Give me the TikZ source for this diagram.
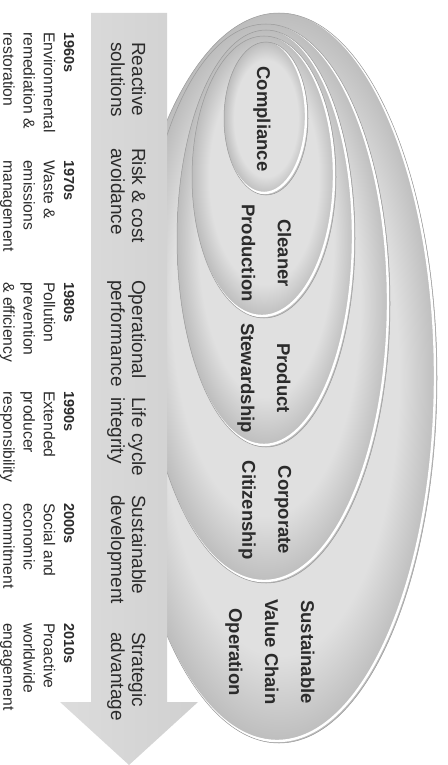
\documentclass[tikz,border=0pt]{standalone}
\usepackage{fontspec}
\setmainfont{Liberation Sans}
\usetikzlibrary{positioning}

\definecolor{bandlight}{HTML}{DCDCDC}
\definecolor{banddark}{HTML}{D0D0D0}
\definecolor{ringin}{HTML}{E0E0E0}
\definecolor{ringrim}{HTML}{BDBDBD}
\definecolor{ringline}{HTML}{9A9A9A}
\definecolor{inkgray}{HTML}{2B2B2B}

\pgfdeclareradialshading{rim}{\pgfpoint{0bp}{0bp}}{color(0bp)=(ringin); color(19bp)=(ringin); color(25bp)=(ringrim); color(50bp)=(ringrim)}

% one shaded ring: centre x, centre y, x radius, y radius
\newcommand{\ecoring}[4]{%
  \shade[shading=rim] (#1,#2) ellipse [x radius=#3, y radius=#4];
  \begin{scope}
    \clip (#1,#2) ellipse [x radius=#3, y radius=#4];
    \draw[white, line width=2.4pt] (#1-2,#2-2) ellipse [x radius=#3, y radius=#4];
  \end{scope}
  \draw[ringline, line width=0.5pt] (#1,#2) ellipse [x radius=#3, y radius=#4];
}
\newcommand{\yr}[1]{{\bfseries\fontsize{14.5}{20.3}\selectfont #1}}

\begin{document}
\begin{tikzpicture}[
                x=1pt, y=-1pt,
                every node/.style={rotate=-90, inner sep=0pt, text=inkgray},
                stage/.style={font=\bfseries\fontsize{18.5}{36}\selectfont, align=center},
                driver/.style={font=\fontsize{19}{21}\selectfont, align=left, anchor=north west},
                decade/.style={font=\fontsize{15.7}{20.3}\selectfont, align=left, anchor=north west}
            ]
            \useasboundingbox (0,0) rectangle (447,765);

            % nested rings, outermost first
            \ecoring{279}{378}{158}{365}
            \ecoring{266}{303.5}{124}{279.5}
            \ecoring{266}{238.5}{89}{208.5}
            \ecoring{264}{177}{72}{141}
            \ecoring{266}{118.5}{42}{76.5}

            % time arrow
            \shade[left color=bandlight, right color=banddark]
                (91,13) -- (167,13) -- (167,702) -- (198,702) -- (129,765)
                -- (60,702) -- (91,702) -- cycle;

            \node[stage] (compliance) at (262,119) {Compliance};
            \node[stage] (cleaner) at (266.5,253) {Cleaner\\Production};
            \node[stage] (product) at (264,378) {Product\\Stewardship};
            \node[stage] (corporate) at (265,510) {Corporate\\Citizenship};
            \node[stage] (valuechain) at (270,652) {Sustainable\\Value Chain\\Operation};

            \node[driver] (reactive) at (146,42) {Reactive\\solutions};
            \node[driver] (risk) at (146,148) {Risk \& cost\\avoidance};
            \node[driver] (operational) at (146,280) {Operational\\performance};
            \node[driver] (lifecycle) at (146,397) {Life cycle\\integrity};
            \node[driver] (development) at (146,495) {Sustainable\\development};
            \node[driver] (advantage) at (146,632) {Strategic\\advantage};

            \node[decade] (d1960) at (74.5,32) {\yr{1960s}\\Environmental\\remediation \&\\restoration};
            \node[decade] (d1970) at (74.5,160) {\yr{1970s}\\Waste \&\\emissions\\management};
            \node[decade] (d1980) at (74.5,282) {\yr{1980s}\\Pollution\\prevention\\\& efficiency};
            \node[decade] (d1990) at (74.5,391) {\yr{1990s}\\Extended\\producer\\responsibility};
            \node[decade] (d2000) at (74.5,503) {\yr{2000s}\\Social and\\economic\\commitment};
            \node[decade] (d2010) at (74.5,623) {\yr{2010s}\\Proactive\\worldwide\\engagement};

        \end{tikzpicture}
\end{document}
